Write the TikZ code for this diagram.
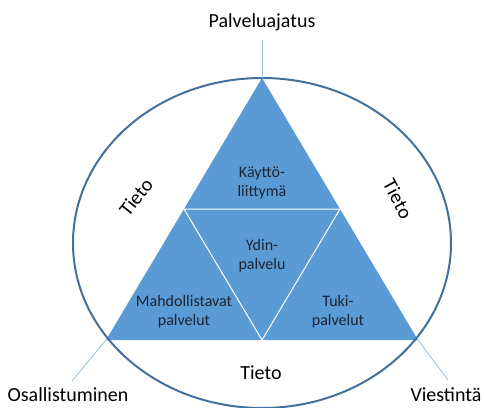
\documentclass[tikz,border=0pt]{standalone}
\usepackage{fontspec}
\setmainfont{Carlito}
\usetikzlibrary{positioning,calc}
\definecolor{triblue}{HTML}{5B9BD5}
\definecolor{rimblue}{HTML}{41719C}
\definecolor{leadblue}{HTML}{9DC3E6}
\definecolor{darktext}{HTML}{1A2533}
\tikzset{
    part/.style={align=center, text=darktext, inner sep=1pt, font=\fontsize{16}{19}\selectfont},
    outer/.style={inner sep=1pt, font=\fontsize{20}{24}\selectfont},
    leader/.style={leadblue, line width=0.9pt},
    rim/.style={rimblue, line width=2pt},
}

\begin{document}
\begin{tikzpicture}[x=1pt, y=-1pt]
    \useasboundingbox (0,0) rectangle (484,407);
    \coordinate (top) at (262,78);
    \coordinate (bl) at (106,340);
    \coordinate (br) at (418,340);
    \coordinate (ml) at ($(top)!0.5!(bl)$);
    \coordinate (mr) at ($(top)!0.5!(br)$);
    \coordinate (mb) at ($(bl)!0.5!(br)$);
    \fill[triblue] (top) -- (bl) -- (br) -- cycle;
    \draw[white, line width=1pt] (ml) -- (mr) -- (mb) -- cycle;
    \draw[rim] (262,243) ellipse [x radius=189pt, y radius=165pt];

    \node[part] (ui) at (262,183) {Käyttö-\\liittymä};
    \node[part] (core) at (262,256) {Ydin-\\palvelu};
    \node[part] (enab) at (184,312) {Mahdollistavat\\palvelut};
    \node[part] (supp) at (338,312) {Tuki-\\palvelut};

    \node[outer] (idea) at (262,22) {Palveluajatus};
    \node[outer] (partic) at (68,395) {Osallistuminen};
    \node[outer] (comm) at (446,395) {Viestintä};
    \coordinate (ideaend) at (262,40);
    \coordinate (particend) at (72,381);
    \coordinate (commend) at (448,380);
    \draw[leader] (ideaend) -- (top);
    \draw[leader] (particend) -- (bl);
    \draw[leader] (commend) -- (br);

    \node[outer, rotate=52] (infol) at (136,197) {Tieto};
    \node[outer, rotate=-62] (infor) at (398,199) {Tieto};
    \node[outer] (infob) at (261,373) {Tieto};
\end{tikzpicture}
\end{document}
